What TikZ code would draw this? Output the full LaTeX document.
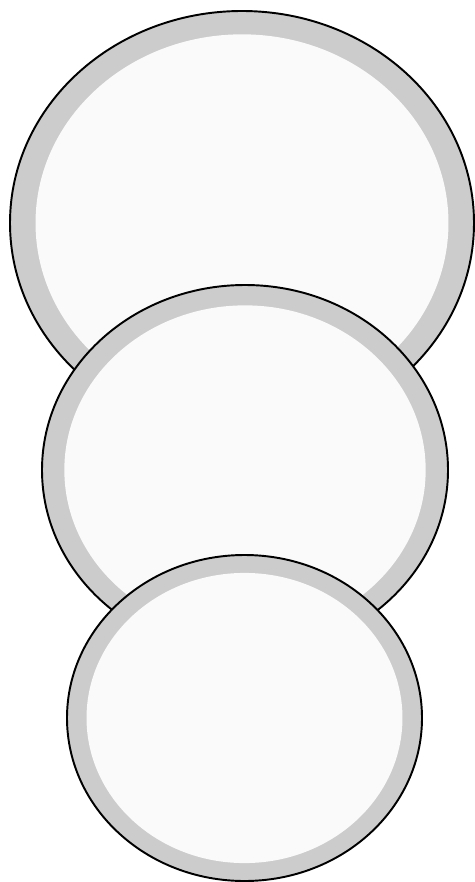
\documentclass[tikz,border=0pt]{standalone}
\usetikzlibrary{calc}

\definecolor{ringgray}{HTML}{CCCCCC}
\definecolor{facewhite}{HTML}{FAFAFA}

\begin{document}
\begin{tikzpicture}[x=0.02cm,y=-0.02cm,line cap=round,line join=round]
  \useasboundingbox (0,0) rectangle (475,882);
  \def\k{0.89}
  % top disc
  \filldraw[fill=ringgray,line width=1.1pt] (242,223) ellipse [x radius=232,y radius=212];
  \fill[facewhite] (242,223) ellipse [x radius=232*\k,y radius=212*\k];
  % middle disc
  \filldraw[fill=ringgray,line width=1.1pt] (245,470) ellipse [x radius=203,y radius=185];
  \fill[facewhite] (245,470) ellipse [x radius=203*\k,y radius=185*\k];
  % bottom disc
  \filldraw[fill=ringgray,line width=1.1pt] (244.5,718) ellipse [x radius=177.5,y radius=163];
  \fill[facewhite] (244.5,718) ellipse [x radius=177.5*\k,y radius=163*\k];
\end{tikzpicture}
\end{document}
